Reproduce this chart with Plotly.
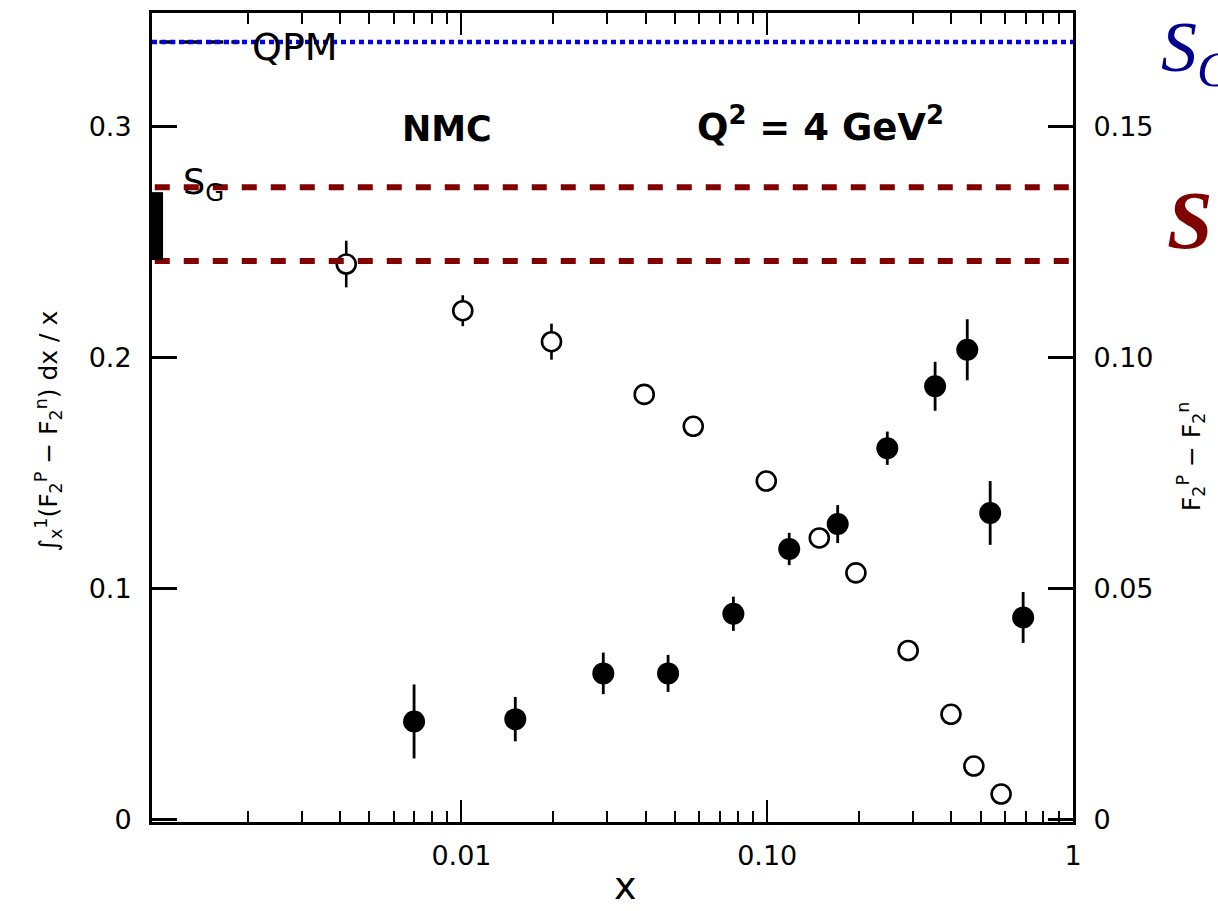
import plotly.graph_objects as go

# ---- data ----
# open circles: integral  int_x^1 (F2p - F2n) dx/x   (left axis)
x_int = [0.0042, 0.0101, 0.0197, 0.0396, 0.0573, 0.0993, 0.148, 0.195, 0.289, 0.399, 0.474, 0.582]
y_int = [0.2405, 0.2203, 0.2069, 0.1841, 0.1703, 0.1466, 0.1220, 0.1069, 0.0733, 0.0457, 0.0233, 0.0112]
e_int = [0.0101, 0.0067, 0.0078, 0, 0, 0, 0, 0, 0, 0, 0, 0]

# filled circles: F2p - F2n   (right axis)
x_diff = [0.0070, 0.0150, 0.0291, 0.0474, 0.0775, 0.118, 0.170, 0.247, 0.354, 0.451, 0.536, 0.687]
y_diff = [0.0213, 0.0218, 0.0317, 0.0317, 0.0446, 0.0586, 0.0640, 0.0804, 0.0938, 0.1017, 0.0664, 0.0438]
e_diff = [0.0080, 0.0048, 0.0045, 0.0040, 0.0037, 0.0035, 0.0041, 0.0036, 0.0053, 0.0066, 0.0069, 0.0055]

qpm_value = 0.3365
sg_band = [0.2418, 0.2737]
sg_bar = [0.2422, 0.2716]

x_tickvals = [0.01, 0.1, 1]
x_ticktext = ["0.01", "0.10", "1"]
x_minor = [m * d for d in (0.001, 0.01, 0.1) for m in range(2, 10)]
yl_tickvals = [0, 0.1, 0.2, 0.3]
yl_ticktext = ["0", "0.1", "0.2", "0.3"]
yr_tickvals = [0, 0.05, 0.10, 0.15]
yr_ticktext = ["0", "0.05", "0.10", "0.15"]

y_range = [-0.0009, 0.3491]
x_range_log = [-3.012, 0.0]

FONT = "DejaVu Sans"
RED = "rgb(128,0,0)"
BLUE = "rgb(0,0,235)"
NAVY = "rgb(0,0,140)"

fig = go.Figure()

fig.add_trace(go.Scatter(
    x=x_int, y=y_int, mode="markers",
    marker=dict(symbol="circle", size=19, color="white", line=dict(color="black", width=2.6)),
    error_y=dict(type="data", array=e_int, color="black", thickness=2.6, width=0),
    showlegend=False, yaxis="y"))

fig.add_trace(go.Scatter(
    x=x_diff, y=y_diff, mode="markers",
    marker=dict(symbol="circle", size=22, color="black", line=dict(width=0)),
    error_y=dict(type="data", array=e_diff, color="black", thickness=2.8, width=0),
    showlegend=False, yaxis="y2"))

shapes = []
# old black dashes of the QPM line (left part)
shapes.append(dict(type="line", xref="paper", yref="y", x0=0.008, x1=0.095,
                   y0=qpm_value, y1=qpm_value, line=dict(color="black", width=3.5, dash="16px,8px")))
# blue dotted QPM line
shapes.append(dict(type="line", xref="paper", yref="y", x0=0, x1=1,
                   y0=qpm_value, y1=qpm_value, line=dict(color=BLUE, width=4.5, dash="5px,4px")))
# S_G band (dashed dark red)
for v in sg_band:
    shapes.append(dict(type="line", xref="paper", yref="y", x0=0.003, x1=1,
                       y0=v, y1=v, line=dict(color=RED, width=6, dash="15px,14px")))
# black S_G bar on the left axis
shapes.append(dict(type="rect", xref="paper", yref="y", x0=0, x1=0.012,
                   y0=sg_bar[0], y1=sg_bar[1], fillcolor="black", line=dict(width=0)))

ann = []
ann.append(dict(text="QPM", x=0.106, y=0.958, xref="paper", yref="paper", xanchor="left",
                yanchor="middle", showarrow=False, font=dict(family=FONT, size=38, color="black")))
ann.append(dict(text="<b>NMC</b>", x=0.320, y=0.856, xref="paper", yref="paper", xanchor="center",
                yanchor="middle", showarrow=False, font=dict(family=FONT, size=35, color="black")))
ann.append(dict(text="<b>Q<sup>2</sup> = 4 GeV<sup>2</sup></b>", x=0.726, y=0.862, xref="paper", yref="paper",
                xanchor="center", yanchor="middle", showarrow=False,
                font=dict(family=FONT, size=37, color="black")))
ann.append(dict(text="S<sub>G</sub>", x=0.031, y=0.788, xref="paper", yref="paper", xanchor="left",
                yanchor="middle", showarrow=False, font=dict(family=FONT, size=35, color="black")))
ann.append(dict(text="∫<sub>x</sub><sup>1</sup>(F<sub>2</sub><sup>P</sup> − F<sub>2</sub><sup>n</sup>) dx / x",
                x=-0.112, y=0.483, xref="paper", yref="paper", xanchor="center", yanchor="middle",
                textangle=-90, showarrow=False, font=dict(family=FONT, size=25, color="black")))
ann.append(dict(text="F<sub>2</sub><sup>P</sup> − F<sub>2</sub><sup>n</sup>",
                x=1.129, y=0.452, xref="paper", yref="paper", xanchor="center", yanchor="middle",
                textangle=-90, showarrow=False, font=dict(family=FONT, size=25, color="black")))
ann.append(dict(text="x", x=0.5136, y=-0.1084, xref="paper", yref="paper", xanchor="center",
                yanchor="bottom", showarrow=False,
                font=dict(family=FONT, size=38, color="black")))
ann.append(dict(text="<i>S<sub>G</sub></i>", x=1.0935, y=1.0105, xref="paper", yref="paper",
                xanchor="left", yanchor="top", showarrow=False,
                font=dict(family="Liberation Serif", size=72, color=NAVY)))
ann.append(dict(text="<b><i>S</i></b>", x=1.1, y=0.744, xref="paper", yref="paper",
                xanchor="left", yanchor="middle", showarrow=False,
                font=dict(family="Liberation Serif", size=82, color=RED)))

fig.update_layout(
    width=1218, height=911,
    margin=dict(l=152, r=145, t=10, b=89),
    paper_bgcolor="white", plot_bgcolor="white",
    font=dict(family=FONT, size=27, color="black"),
    shapes=shapes, annotations=ann,
    xaxis=dict(type="log", range=x_range_log, showgrid=False, zeroline=False,
               showline=True, linecolor="black", linewidth=3, mirror="ticks",
               ticks="inside", ticklen=22, tickwidth=2, tickcolor="black",
               tickvals=x_tickvals, ticktext=x_ticktext, ticklabelstandoff=8,
               tickfont=dict(family=FONT, size=27),
               minor=dict(ticks="inside", ticklen=11, tickwidth=1.5, tickcolor="black",
                          tickvals=x_minor, showgrid=False)),
    yaxis=dict(range=y_range, showgrid=False, zeroline=False, showline=True,
               linecolor="black", linewidth=3, ticks="inside", ticklen=25, tickwidth=2.5,
               tickcolor="black", tickvals=yl_tickvals, ticktext=yl_ticktext,
               ticklabelstandoff=12, tickfont=dict(family=FONT, size=27)),
    yaxis2=dict(range=[y_range[0] / 2, y_range[1] / 2], overlaying="y", side="right",
                showgrid=False, zeroline=False, showline=True, linecolor="black", linewidth=3,
                ticks="inside", ticklen=25, tickwidth=2.5, tickcolor="black",
                tickvals=yr_tickvals, ticktext=yr_ticktext, ticklabelstandoff=12,
                tickfont=dict(family=FONT, size=27)),
)

fig.write_html("out.html")
